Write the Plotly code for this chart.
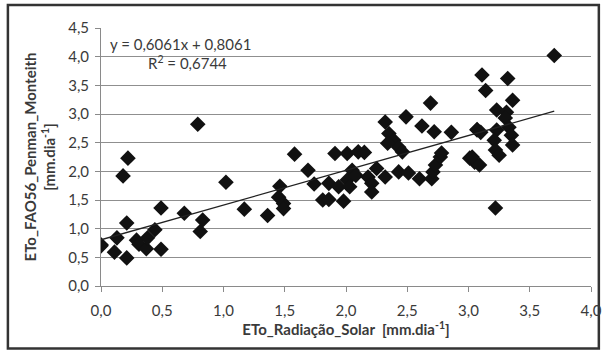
import numpy as np
import plotly.graph_objects as go

# ETo_Radiação_Solar (x) and ETo_FAO56_Penman_Monteith (y), mm/dia
x_vals = [0.00, 0.00, 0.11, 0.21, 0.13, 0.21, 0.29, 0.31, 0.37, 0.38, 0.44, 0.49, 0.49,
          0.68, 0.83, 0.81, 1.02, 0.18, 0.22, 0.79, 1.17, 1.36, 1.58, 1.69, 1.74, 1.46,
          1.45, 1.49, 1.49, 1.81, 1.86, 1.98, 1.86, 1.94, 1.91, 2.01, 2.10, 2.05, 2.01,
          2.03, 2.08, 2.69, 2.32, 2.49, 2.62, 2.72, 2.86, 3.07, 2.35, 2.39, 2.34, 2.43,
          2.46, 2.15, 2.25, 2.18, 2.21, 2.21, 2.32, 2.43, 2.51, 2.60, 2.70, 2.71, 2.73,
          2.77, 2.78, 3.01, 3.05, 3.70, 3.11, 3.32, 3.14, 3.36, 3.23, 3.31, 3.30, 3.07,
          3.10, 3.23, 3.33, 3.35, 3.21, 3.36, 3.22, 3.25, 3.03, 3.09, 3.22]
y_vals = [0.72, 0.70, 0.59, 0.49, 0.84, 1.10, 0.80, 0.73, 0.65, 0.84, 0.98, 0.64, 1.36,
          1.27, 1.15, 0.95, 1.81, 1.92, 2.23, 2.82, 1.34, 1.23, 2.30, 2.02, 1.78, 1.74,
          1.55, 1.44, 1.35, 1.50, 1.51, 1.48, 1.79, 1.73, 2.31, 2.31, 2.34, 2.02, 1.85,
          1.73, 1.93, 3.19, 2.86, 2.95, 2.79, 2.69, 2.68, 2.73, 2.66, 2.54, 2.49, 2.42,
          2.34, 2.33, 2.05, 1.90, 1.79, 1.64, 1.90, 1.99, 1.97, 1.87, 1.87, 1.99, 2.11,
          2.25, 2.32, 2.23, 2.16, 4.02, 3.68, 3.62, 3.41, 3.24, 3.07, 3.03, 2.93, 2.72,
          2.68, 2.72, 2.77, 2.63, 2.54, 2.46, 2.37, 2.28, 2.25, 2.11, 1.36]

slope = 0.6061
intercept = 0.8061
r2 = 0.6744

x_ticks = [0.0, 0.5, 1.0, 1.5, 2.0, 2.5, 3.0, 3.5, 4.0]
y_ticks = [0.0, 0.5, 1.0, 1.5, 2.0, 2.5, 3.0, 3.5, 4.0, 4.5]


def fmt(v, nd=1):
    return f"{v:.{nd}f}".replace(".", ",")


line_x = np.array([0.0, max(x_vals)])
line_y = slope * line_x + intercept

font_family = "Lato, 'Open Sans', sans-serif"
txt_color = "#3a3a3a"

fig = go.Figure()
fig.add_trace(go.Scatter(
    x=x_vals, y=y_vals, mode="markers",
    marker=dict(symbol="diamond", size=12, color="#111111", line=dict(width=0)),
    showlegend=False, hoverinfo="skip"))
fig.add_trace(go.Scatter(
    x=line_x, y=line_y, mode="lines",
    line=dict(color="#222222", width=1.3),
    showlegend=False, hoverinfo="skip"))

fig.update_layout(
    width=614, height=352,
    margin=dict(l=101, r=13, t=28, b=66),
    paper_bgcolor="white", plot_bgcolor="white",
    font=dict(family=font_family, size=14, color=txt_color),
    xaxis=dict(
        range=[0, 4], tickvals=x_ticks, ticktext=[fmt(v) for v in x_ticks],
        showgrid=False, zeroline=False, showline=True, linecolor="#8a8a8a", linewidth=1,
        ticks="outside", ticklen=5, tickcolor="#8a8a8a", ticklabelstandoff=6,
        tickfont=dict(size=15, color=txt_color),
        title=dict(text="<b>ETo_Radiação_Solar  [mm.dia<sup>-1</sup>]</b>",
                   font=dict(size=15, color=txt_color), standoff=6),
    ),
    yaxis=dict(
        range=[0, 4.5], tickvals=y_ticks, ticktext=[fmt(v) for v in y_ticks],
        showgrid=True, gridcolor="#8f8f8f", gridwidth=1,
        zeroline=False, showline=True, linecolor="#8a8a8a", linewidth=1,
        ticks="outside", ticklen=5, tickcolor="#8a8a8a", ticklabelstandoff=3,
        tickfont=dict(size=15, color=txt_color),
        title=dict(text="<b>ETo_FAO56_Penman_Monteith<br>[mm.dia<sup>-1</sup>]</b>",
                   font=dict(size=15, color=txt_color), standoff=8),
    ),
    annotations=[
        dict(x=0.06, y=4.22, xref="x", yref="y", xanchor="left", yanchor="middle",
             text=f"y = {fmt(slope, 4)}x + {fmt(intercept, 4)}",
             showarrow=False, font=dict(size=15, color=txt_color)),
        dict(x=0.37, y=3.9, xref="x", yref="y", xanchor="left", yanchor="middle",
             text=f"R<sup>2</sup> = {fmt(r2, 4)}",
             showarrow=False, font=dict(size=15, color=txt_color)),
    ],
    shapes=[
        dict(type="rect", xref="paper", yref="paper",
             x0=-0.19, x1=1.016, y0=-0.242, y1=1.089,
             line=dict(color="#333333", width=2.5), fillcolor="rgba(0,0,0,0)", layer="below"),
    ],
)

fig.write_html("out.html")
